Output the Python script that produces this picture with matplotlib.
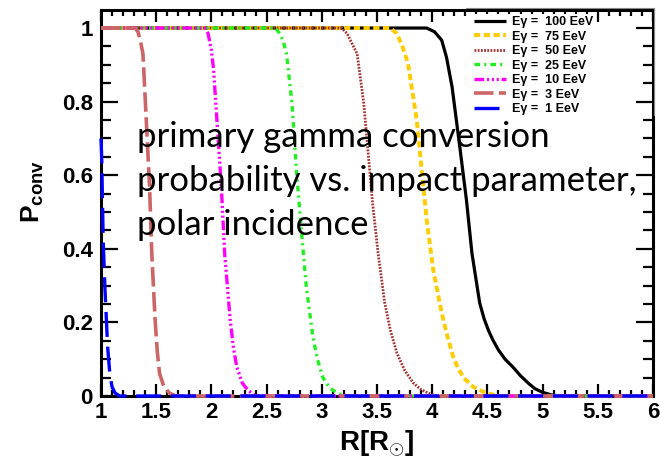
import matplotlib
matplotlib.use("Agg")
import matplotlib.pyplot as plt
from matplotlib.lines import Line2D
from matplotlib.ticker import MultipleLocator, FormatStrFormatter

# conversion probability vs impact parameter
energies = ["100", "75", "50", "25", "10", "3", "1"]

r_100 = [1.0, 3.95, 4.02, 4.086, 4.13, 4.18, 4.25, 4.31, 4.36, 4.43, 4.47, 4.51, 4.55, 4.60, 4.66, 4.73, 4.80, 4.87, 4.93, 5.0, 5.08, 5.15, 6.0]
p_100 = [1.0, 1.0, 0.99, 0.967, 0.92, 0.84, 0.677, 0.533, 0.388, 0.253, 0.21, 0.178, 0.152, 0.125, 0.10, 0.079, 0.055, 0.035, 0.02, 0.01, 0.003, 0.0, 0.0]

r_75 = [1.0, 3.62, 3.68, 3.73, 3.78, 3.86, 3.905, 3.95, 4.01, 4.086, 4.14, 4.19, 4.24, 4.29, 4.37, 4.45, 4.52, 4.6, 6.0]
p_75 = [1.0, 1.0, 0.985, 0.95, 0.905, 0.75, 0.614, 0.478, 0.342, 0.225, 0.16, 0.106, 0.072, 0.048, 0.025, 0.013, 0.006, 0.0, 0.0]

r_50 = [1.0, 3.18, 3.23, 3.27, 3.32, 3.38, 3.42, 3.46, 3.51, 3.57, 3.62, 3.68, 3.75, 3.83, 3.90, 3.98, 4.05, 6.0]
p_50 = [1.0, 1.0, 0.985, 0.96, 0.93, 0.796, 0.66, 0.524, 0.388, 0.253, 0.18, 0.117, 0.07, 0.035, 0.017, 0.006, 0.0, 0.0]

r_25 = [1.0, 2.58, 2.62, 2.65, 2.68, 2.73, 2.77, 2.82, 2.86, 2.92, 2.96, 3.01, 3.07, 3.13, 3.2, 6.0]
p_25 = [1.0, 1.0, 0.985, 0.965, 0.93, 0.796, 0.614, 0.432, 0.296, 0.16, 0.1, 0.05, 0.022, 0.01, 0.0, 0.0]

r_10 = [1.0, 1.94, 1.97, 2.0, 2.02, 2.06, 2.09, 2.12, 2.17, 2.20, 2.23, 2.28, 2.33, 2.4, 6.0]
p_10 = [1.0, 1.0, 0.985, 0.94, 0.886, 0.705, 0.568, 0.388, 0.207, 0.13, 0.079, 0.035, 0.016, 0.0, 0.0]

r_3 = [1.0, 1.31, 1.335, 1.36, 1.38, 1.41, 1.44, 1.46, 1.49, 1.51, 1.53, 1.57, 1.62, 1.68, 6.0]
p_3 = [1.0, 1.0, 0.99, 0.96, 0.93, 0.75, 0.568, 0.388, 0.207, 0.12, 0.062, 0.025, 0.008, 0.0, 0.0]

r_1 = [1.0, 1.006, 1.02, 1.036, 1.06, 1.08, 1.10, 1.127, 1.17, 6.0]
p_1 = [0.70, 0.65, 0.42, 0.29, 0.134, 0.06, 0.025, 0.008, 0.0, 0.0]

x_ticks = [1, 1.5, 2, 2.5, 3, 3.5, 4, 4.5, 5, 5.5, 6]
y_ticks = [0, 0.2, 0.4, 0.6, 0.8, 1]

note_lines = ["primary gamma conversion",
              "probability vs. impact parameter,",
              "polar incidence"]

curves = [
    (r_100, p_100, dict(color="black", lw=2.3)),
    (r_75, p_75, dict(color="#FFCC00", lw=2.8, dashes=(4.5, 2.5))),
    (r_50, p_50, dict(color="#A33333", lw=2.0, dashes=(1.3, 1.0))),
    (r_25, p_25, dict(color="#22EE22", lw=2.4, dashes=(4, 3, 1.5, 3))),
    (r_10, p_10, dict(color="#FF00FF", lw=2.4, dashes=(7, 2, 1.5, 2, 1.5, 2, 1.5, 2))),
    (r_3, p_3, dict(color="#CC6666", lw=2.6, dashes=(14, 4))),
    (r_1, p_1, dict(color="#0000FF", lw=2.4, dashes=(18, 7))),
]

plt.rcParams["lines.scale_dashes"] = False
plt.rcParams["mathtext.fontset"] = "custom"
plt.rcParams["mathtext.bf"] = "Liberation Sans:bold"
plt.rcParams["mathtext.rm"] = "Liberation Sans:bold"

fig = plt.figure(figsize=(6.6, 4.69), dpi=100)
ax = fig.add_axes([101 / 660, 73 / 469, 552 / 660, 386 / 469])

for (r, p, style), e in zip(curves, energies):
    ax.plot(r, p, label="E\u03b3 =  %s EeV" % e, zorder=3, clip_on=False,
            solid_capstyle="butt", dash_capstyle="butt", **style)

ax.set_xlim(1, 6)
ax.set_ylim(0, 1.049)
ax.set_xticks(x_ticks)
ax.set_yticks(y_ticks)
ax.xaxis.set_minor_locator(MultipleLocator(0.1))
ax.yaxis.set_minor_locator(MultipleLocator(0.05))
ax.xaxis.set_major_formatter(FormatStrFormatter("%g"))
ax.yaxis.set_major_formatter(FormatStrFormatter("%g"))

for s in ax.spines.values():
    s.set_linewidth(2.2)
ax.tick_params(which="both", direction="in", top=True, right=True, width=1.6,
               labelsize=16)
ax.tick_params(axis="y", which="major", length=12, pad=6)
ax.tick_params(axis="y", which="minor", length=7)
ax.tick_params(axis="x", which="major", length=8.5, pad=4)
ax.tick_params(axis="x", which="minor", length=4.5)
for lab in ax.get_xticklabels() + ax.get_yticklabels():
    lab.set_fontfamily("Liberation Sans")
    lab.set_fontweight("bold")

ax.set_xlabel(r"R[R$_{\odot}$]", fontsize=20, fontweight="bold", family="Liberation Sans")
ax.xaxis.set_label_coords(0.5, -0.083)
ax.set_ylabel(r"P$_{\mathbf{conv}}$", fontsize=19, fontweight="bold", family="Liberation Sans")
ax.yaxis.set_label_coords(-0.10, 0.53)

for i, line in enumerate(note_lines):
    fig.text(137 / 660, 1 - (147 + 44 * i) / 469, line, fontsize=25,
             family="Lato", va="baseline", ha="left")

leg = fig.legend(loc="upper left", bbox_to_anchor=(466 / 660, 1 - 8 / 469),
                 prop=dict(family="Liberation Sans", weight="bold", size=9),
                 handlelength=2.55, handletextpad=0.45, labelspacing=0.2,
                 borderpad=0.15, frameon=True, fancybox=False)
leg.get_frame().set_facecolor("white")
leg.get_frame().set_edgecolor("none")
leg.get_frame().set_alpha(1)
leg.set_zorder(10)

# thin grey edge on top and right of the legend box, as in the original
fig.add_artist(Line2D([466 / 660, 654 / 660, 654 / 660],
                      [1 - 8 / 469, 1 - 8 / 469, 1 - 115 / 469],
                      color="#888888", lw=0.8, zorder=11))

fig.savefig("out.png", dpi=100)
